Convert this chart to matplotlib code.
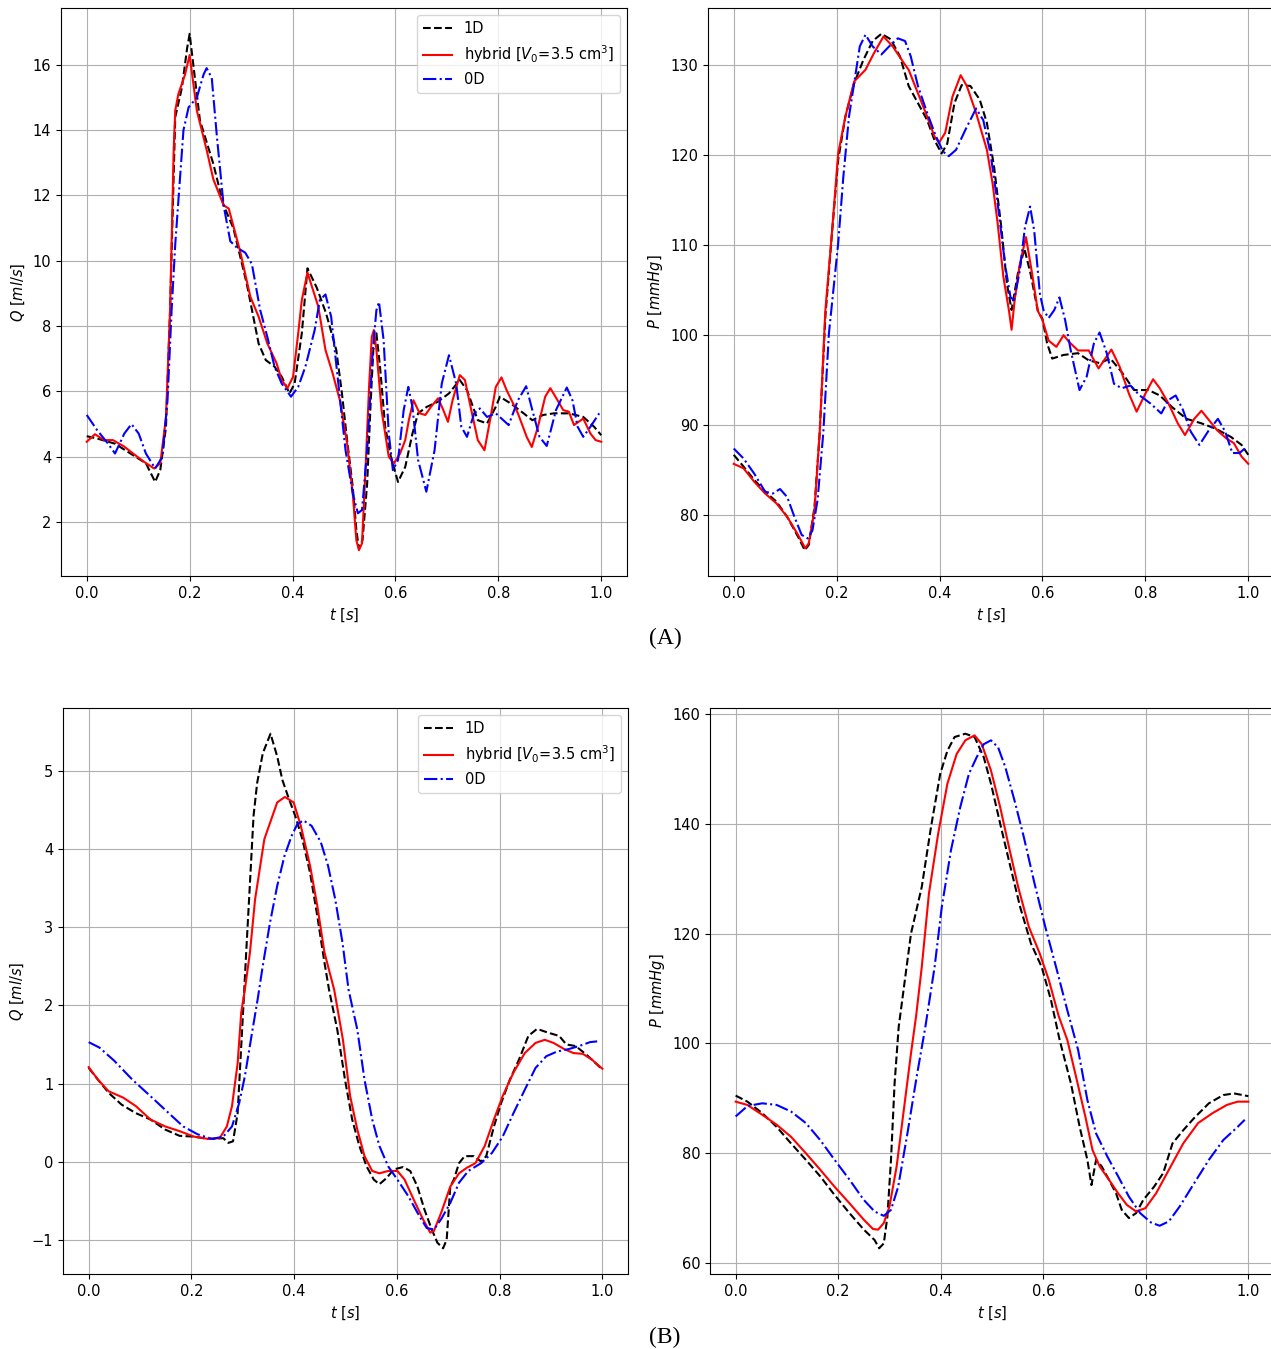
import matplotlib
matplotlib.use("Agg")
import matplotlib.pyplot as plt

# ---- case (A): flow rate Q [ml/s] ----
qa_t_1d = [0, 0.02, 0.055, 0.09, 0.115, 0.133, 0.143, 0.154, 0.162, 0.172, 0.185, 0.195, 0.2,
           0.22, 0.246, 0.266, 0.285, 0.311, 0.334, 0.348, 0.365, 0.379, 0.394, 0.404, 0.418, 0.429,
           0.447, 0.465, 0.485, 0.496, 0.506, 0.517, 0.524, 0.529, 0.536, 0.545, 0.552, 0.557, 0.563,
           0.57, 0.58, 0.591, 0.605, 0.619, 0.633, 0.644, 0.661, 0.682, 0.704, 0.725, 0.739, 0.76,
           0.778, 0.795, 0.803, 0.824, 0.845, 0.866, 0.887, 0.908, 0.937, 0.965, 0.986, 1.0]
qa_1d = [4.63, 4.56, 4.4, 4.05, 3.8, 3.23, 3.6, 4.9, 8.5, 14.4, 15.3, 16.5, 16.95,
         14.3, 12.97, 11.7, 11.0, 9.3, 7.47, 6.96, 6.76, 6.45, 5.94, 6.24, 7.78, 9.77,
         9.18, 8.4, 7.27, 5.94, 4.51, 3.08, 1.76, 1.19, 1.45, 3.18, 5.73, 7.27, 7.78,
         6.76, 4.92, 4.0, 3.23, 3.69, 4.71, 5.33, 5.53, 5.68, 5.94, 6.35, 6.04, 5.12,
         5.02, 5.53, 5.84, 5.63, 5.38, 5.12, 5.28, 5.33, 5.33, 5.22, 4.92, 4.66]

qa_t_hy = [0, 0.016, 0.034, 0.051, 0.073, 0.09, 0.111, 0.131, 0.143, 0.154, 0.162, 0.169, 0.172,
           0.178, 0.191, 0.2, 0.214, 0.233, 0.246, 0.266, 0.276, 0.298, 0.318, 0.334, 0.351, 0.369,
           0.379, 0.39, 0.401, 0.411, 0.418, 0.429, 0.45, 0.464, 0.478, 0.492, 0.506, 0.517, 0.524,
           0.529, 0.535, 0.542, 0.549, 0.554, 0.558, 0.563, 0.573, 0.587, 0.597, 0.609, 0.619, 0.626,
           0.635, 0.647, 0.658, 0.669, 0.683, 0.693, 0.702, 0.711, 0.725, 0.735, 0.746, 0.76, 0.773,
           0.785, 0.795, 0.806, 0.816, 0.838, 0.855, 0.865, 0.877, 0.891, 0.901, 0.915, 0.926, 0.937,
           0.947, 0.965, 0.979, 0.989, 1.0]
qa_hy = [4.46, 4.69, 4.51, 4.51, 4.31, 4.1, 3.85, 3.64, 3.8, 5.2, 8.5, 13.4, 14.6,
         15.1, 15.7, 16.3, 14.6, 13.4, 12.5, 11.7, 11.6, 10.3, 8.9, 8.29, 7.47, 6.86,
         6.35, 6.1, 6.45, 7.78, 8.8, 9.64, 8.6, 7.27, 6.55, 5.73, 4.41, 2.88, 1.45,
         1.14, 1.35, 3.69, 6.24, 7.67, 7.88, 7.27, 5.43, 4.0, 3.8, 4.1, 4.51, 5.12,
         5.73, 5.33, 5.28, 5.53, 5.79, 5.43, 5.07, 5.73, 6.5, 6.35, 5.53, 4.51, 4.2,
         5.22, 6.14, 6.43, 6.04, 5.33, 4.61, 4.3, 4.92, 5.84, 6.1, 5.73, 5.43, 5.38,
         4.97, 5.17, 4.71, 4.51, 4.46]

qa_t_0d = [0, 0.02, 0.041, 0.055, 0.073, 0.087, 0.101, 0.115, 0.133, 0.147, 0.157, 0.165, 0.172,
           0.188, 0.198, 0.214, 0.227, 0.233, 0.243, 0.253, 0.266, 0.279, 0.292, 0.308, 0.321, 0.337,
           0.351, 0.365, 0.379, 0.397, 0.411, 0.425, 0.443, 0.453, 0.464, 0.475, 0.489, 0.503, 0.517,
           0.527, 0.535, 0.545, 0.556, 0.563, 0.568, 0.577, 0.587, 0.595, 0.605, 0.616, 0.625, 0.633,
           0.644, 0.66, 0.676, 0.69, 0.704, 0.718, 0.728, 0.739, 0.753, 0.764, 0.778, 0.795, 0.82,
           0.838, 0.854, 0.866, 0.88, 0.894, 0.912, 0.933, 0.944, 0.954, 0.965, 0.979, 0.996]
qa_0d = [5.28, 4.82, 4.41, 4.1, 4.71, 5.0, 4.71, 4.1, 3.64, 4.0, 5.73, 8.5, 10.5,
         14.0, 14.7, 15.0, 15.7, 15.9, 15.6, 13.8, 11.7, 10.6, 10.4, 10.25, 9.9, 8.5,
         7.67, 6.76, 6.24, 5.84, 6.14, 6.76, 7.88, 8.8, 8.97, 8.29, 6.24, 4.2, 2.88,
         2.27, 2.37, 4.2, 7.27, 8.49, 8.74, 7.57, 4.71, 3.59, 3.9, 5.43, 6.14, 5.53,
         3.9, 2.93, 4.2, 6.24, 7.11, 6.24, 4.92, 4.61, 5.33, 5.48, 5.22, 5.33, 4.97,
         5.73, 6.16, 5.43, 4.61, 4.33, 5.43, 6.12, 5.73, 4.92, 4.61, 4.92, 5.33]

# ---- case (A): pressure P [mmHg] ----
pa_t_1d = [0, 0.019, 0.04, 0.061, 0.083, 0.104, 0.125, 0.138, 0.146, 0.157, 0.167, 0.178, 0.189,
           0.203, 0.217, 0.234, 0.252, 0.27, 0.287, 0.305, 0.323, 0.34, 0.358, 0.376, 0.39, 0.404,
           0.415, 0.429, 0.443, 0.46, 0.478, 0.492, 0.506, 0.52, 0.531, 0.54, 0.552, 0.565, 0.577,
           0.591, 0.6, 0.609, 0.619, 0.641, 0.669, 0.69, 0.711, 0.732, 0.754, 0.778, 0.806, 0.828,
           0.852, 0.88, 0.909, 0.937, 0.966, 0.987, 1.0]
pa_1d = [86.7, 85.4, 83.9, 82.6, 81.5, 79.8, 77.6, 76.1, 76.7, 80.9, 89.1, 102.0, 110.0,
         119.5, 124.3, 128.0, 130.6, 132.7, 133.5, 132.9, 131.0, 127.7, 125.8, 123.9, 121.7, 120.2,
         121.3, 125.8, 127.8, 127.7, 126.2, 123.6, 118.7, 112.0, 105.7, 102.8, 106.8, 109.6, 106.8,
         102.7, 101.8, 99.1, 97.4, 97.8, 98.0, 97.2, 96.9, 97.4, 95.9, 93.9, 93.9, 93.3,
         92.0, 90.7, 90.2, 89.6, 88.7, 87.8, 86.7]

pa_t_hy = [0, 0.019, 0.04, 0.061, 0.083, 0.104, 0.125, 0.139, 0.146, 0.157, 0.167, 0.178, 0.189,
           0.203, 0.217, 0.234, 0.256, 0.273, 0.291, 0.309, 0.33, 0.34, 0.358, 0.376, 0.39, 0.399,
           0.411, 0.425, 0.441, 0.453, 0.471, 0.492, 0.503, 0.513, 0.524, 0.535, 0.54, 0.546, 0.556,
           0.568, 0.58, 0.591, 0.6, 0.612, 0.627, 0.641, 0.651, 0.669, 0.69, 0.709, 0.722, 0.734,
           0.75, 0.768, 0.783, 0.8, 0.815, 0.828, 0.845, 0.863, 0.877, 0.895, 0.909, 0.923, 0.94,
           0.958, 0.972, 0.987, 1.0]
pa_hy = [85.7, 85.2, 83.7, 82.4, 81.3, 79.8, 77.8, 76.3, 76.9, 80.6, 89.1, 102.7, 110.1,
         120.2, 124.3, 128.2, 129.5, 131.4, 133.2, 132.1, 130.3, 129.5, 126.9, 124.3, 122.1, 121.4,
         122.5, 126.5, 128.9, 127.7, 124.7, 120.6, 116.9, 112.4, 106.5, 102.7, 100.6, 103.9, 107.9,
         110.9, 106.8, 102.7, 101.7, 99.4, 98.7, 100.0, 99.3, 98.3, 98.3, 96.3, 97.4, 98.4,
         96.5, 93.5, 91.5, 93.5, 95.1, 94.1, 92.4, 90.2, 88.9, 90.7, 91.6, 90.6, 89.4,
         88.5, 88.0, 86.5, 85.7]

pa_t_0d = [0, 0.019, 0.04, 0.061, 0.076, 0.09, 0.104, 0.118, 0.132, 0.144, 0.153, 0.163, 0.174,
           0.185, 0.203, 0.213, 0.224, 0.234, 0.245, 0.256, 0.27, 0.287, 0.302, 0.319, 0.333, 0.344,
           0.358, 0.376, 0.393, 0.407, 0.418, 0.432, 0.45, 0.471, 0.485, 0.499, 0.513, 0.528, 0.538,
           0.545, 0.556, 0.566, 0.576, 0.584, 0.595, 0.602, 0.612, 0.623, 0.633, 0.644, 0.655, 0.672,
           0.686, 0.7, 0.711, 0.725, 0.739, 0.754, 0.771, 0.789, 0.81, 0.831, 0.845, 0.859, 0.873,
           0.888, 0.905, 0.923, 0.941, 0.955, 0.969, 0.983, 0.997]
pa_0d = [87.4, 86.3, 84.6, 82.6, 82.4, 82.9, 82.0, 79.8, 77.8, 77.4, 78.3, 81.7, 89.1,
         100.2, 110.2, 117.6, 124.3, 128.0, 132.1, 133.4, 132.1, 131.2, 132.1, 133.0, 132.7, 131.0,
         127.7, 124.7, 122.1, 120.4, 119.9, 120.6, 122.8, 125.2, 123.9, 120.2, 114.6, 107.6, 104.2,
         103.9, 107.2, 112.0, 114.3, 111.6, 104.6, 102.8, 101.9, 102.8, 104.2, 101.7, 98.3, 93.9,
         95.4, 99.1, 100.3, 98.0, 94.6, 94.1, 94.4, 93.3, 92.4, 91.3, 92.8, 93.3, 91.7,
         89.3, 87.8, 89.4, 90.7, 89.3, 86.9, 86.9, 87.6]

# ---- case (B): flow rate Q [ml/s] ----
qb_t_1d = [0, 0.018, 0.039, 0.064, 0.092, 0.12, 0.149, 0.177, 0.205, 0.233, 0.262, 0.272, 0.281,
           0.29, 0.297, 0.302, 0.307, 0.314, 0.321, 0.328, 0.339, 0.354, 0.367, 0.377, 0.388, 0.402,
           0.416, 0.431, 0.445, 0.459, 0.468, 0.484, 0.499, 0.513, 0.527, 0.541, 0.555, 0.566, 0.58,
           0.594, 0.612, 0.626, 0.64, 0.654, 0.668, 0.679, 0.69, 0.697, 0.704, 0.711, 0.721, 0.732,
           0.75, 0.764, 0.774, 0.789, 0.803, 0.82, 0.838, 0.856, 0.873, 0.895, 0.916, 0.93, 0.948,
           0.969, 0.987, 1.0]
qb_1d = [1.2, 1.05, 0.88, 0.73, 0.62, 0.54, 0.41, 0.33, 0.32, 0.29, 0.3, 0.24, 0.26,
         0.62, 1.48, 2.09, 2.72, 3.57, 4.43, 4.85, 5.23, 5.48, 5.19, 4.89, 4.68, 4.43,
         4.13, 3.7, 3.15, 2.55, 2.2, 1.69, 1.05, 0.54, 0.2, -0.06, -0.23, -0.29, -0.21,
         -0.1, -0.07, -0.12, -0.32, -0.62, -0.87, -1.04, -1.11, -1.0, -0.32, -0.23, -0.02, 0.07,
         0.07, 0.0, 0.07, 0.45, 0.75, 1.05, 1.31, 1.61, 1.7, 1.65, 1.61, 1.5, 1.48,
         1.37, 1.26, 1.18]

qb_t_hy = [0, 0.018, 0.039, 0.067, 0.092, 0.12, 0.149, 0.177, 0.205, 0.233, 0.255, 0.269, 0.279,
           0.29, 0.297, 0.304, 0.314, 0.324, 0.342, 0.367, 0.382, 0.399, 0.413, 0.431, 0.445, 0.459,
           0.478, 0.495, 0.509, 0.523, 0.537, 0.552, 0.566, 0.583, 0.601, 0.615, 0.633, 0.651, 0.665,
           0.672, 0.686, 0.704, 0.721, 0.736, 0.753, 0.771, 0.789, 0.806, 0.827, 0.849, 0.87, 0.888,
           0.905, 0.926, 0.944, 0.962, 0.979, 1.0]
qb_hy = [1.21, 1.05, 0.9, 0.82, 0.71, 0.54, 0.45, 0.39, 0.32, 0.29, 0.3, 0.45, 0.71,
         1.26, 1.91, 2.2, 2.68, 3.36, 4.13, 4.6, 4.67, 4.6, 4.3, 3.79, 3.28, 2.68,
         2.2, 1.56, 0.84, 0.41, 0.07, -0.12, -0.15, -0.12, -0.12, -0.23, -0.49, -0.74, -0.91,
         -0.89, -0.66, -0.32, -0.15, -0.08, -0.02, 0.2, 0.54, 0.84, 1.14, 1.39, 1.52, 1.56,
         1.52, 1.44, 1.39, 1.38, 1.31, 1.19]

qb_t_0d = [0, 0.021, 0.05, 0.085, 0.12, 0.156, 0.184, 0.212, 0.24, 0.262, 0.279, 0.293, 0.304,
           0.318, 0.329, 0.339, 0.353, 0.367, 0.381, 0.395, 0.406, 0.418, 0.434, 0.452, 0.466, 0.48,
           0.494, 0.506, 0.523, 0.537, 0.552, 0.566, 0.583, 0.601, 0.622, 0.644, 0.658, 0.672, 0.686,
           0.704, 0.721, 0.739, 0.764, 0.785, 0.806, 0.827, 0.849, 0.87, 0.891, 0.912, 0.934, 0.955,
           0.976, 0.99]
qb_0d = [1.53, 1.46, 1.29, 1.05, 0.84, 0.62, 0.45, 0.35, 0.29, 0.32, 0.45, 0.75, 1.09,
         1.65, 2.08, 2.51, 3.06, 3.53, 3.91, 4.17, 4.32, 4.37, 4.3, 4.09, 3.79, 3.36,
         2.81, 2.2, 1.69, 1.05, 0.54, 0.2, -0.06, -0.23, -0.44, -0.7, -0.85, -0.87, -0.74,
         -0.53, -0.27, -0.12, -0.02, 0.11, 0.32, 0.62, 0.92, 1.2, 1.35, 1.41, 1.44, 1.48,
         1.53, 1.54]

# ---- case (B): pressure P [mmHg] ----
pb_t_1d = [0, 0.023, 0.052, 0.08, 0.108, 0.137, 0.165, 0.193, 0.222, 0.25, 0.271, 0.28, 0.289,
           0.296, 0.303, 0.31, 0.318, 0.342, 0.363, 0.381, 0.399, 0.413, 0.427, 0.448, 0.466, 0.484,
           0.498, 0.516, 0.533, 0.555, 0.576, 0.597, 0.615, 0.632, 0.654, 0.671, 0.686, 0.694, 0.703,
           0.714, 0.728, 0.742, 0.753, 0.767, 0.781, 0.795, 0.816, 0.834, 0.852, 0.873, 0.894, 0.923,
           0.951, 0.972, 1.0]
pb_1d = [90.5, 89.4, 87.3, 84.8, 81.8, 78.8, 75.8, 72.4, 69.1, 66.1, 64.2, 62.7, 63.6,
         68.5, 78.8, 92.7, 103.0, 120.0, 128.5, 139.4, 149.1, 153.3, 155.8, 156.4, 155.8, 152.1,
         147.3, 140.0, 133.3, 124.8, 118.2, 113.9, 107.9, 100.6, 92.7, 84.8, 78.8, 74.2, 78.8,
         77.6, 75.2, 72.7, 69.7, 68.2, 69.1, 71.5, 73.9, 76.4, 81.8, 84.2, 86.4, 89.1,
         90.6, 90.9, 90.4]

pb_t_hy = [0, 0.023, 0.052, 0.08, 0.108, 0.137, 0.165, 0.193, 0.222, 0.25, 0.268, 0.278, 0.289,
           0.3, 0.314, 0.328, 0.342, 0.352, 0.363, 0.377, 0.395, 0.413, 0.431, 0.448, 0.466, 0.48,
           0.498, 0.516, 0.533, 0.551, 0.572, 0.593, 0.611, 0.63, 0.647, 0.664, 0.682, 0.696, 0.71,
           0.728, 0.746, 0.763, 0.781, 0.799, 0.82, 0.845, 0.873, 0.902, 0.93, 0.958, 0.979, 1.0]
pb_hy = [89.4, 88.8, 87.0, 85.2, 83.0, 80.0, 77.0, 73.9, 70.9, 67.9, 66.2, 66.1, 67.3,
         70.3, 77.6, 87.9, 98.2, 105.0, 113.9, 127.3, 138.2, 147.3, 152.7, 155.2, 156.1, 154.5,
         149.7, 143.0, 135.8, 128.5, 121.2, 116.4, 111.5, 105.0, 100.6, 93.9, 86.7, 80.6, 77.6,
         75.2, 72.7, 70.6, 69.4, 70.0, 72.7, 77.0, 81.8, 85.5, 87.3, 88.8, 89.4, 89.4]

pb_t_0d = [0, 0.023, 0.052, 0.08, 0.108, 0.137, 0.165, 0.193, 0.222, 0.25, 0.271, 0.289, 0.303,
           0.317, 0.335, 0.353, 0.37, 0.388, 0.402, 0.42, 0.438, 0.455, 0.47, 0.484, 0.498, 0.512,
           0.526, 0.544, 0.562, 0.583, 0.604, 0.625, 0.647, 0.668, 0.686, 0.703, 0.725, 0.746, 0.767,
           0.789, 0.81, 0.827, 0.845, 0.866, 0.894, 0.923, 0.951, 0.979, 0.993]
pb_0d = [86.7, 88.6, 89.1, 88.8, 87.6, 85.5, 82.4, 78.8, 75.2, 71.5, 69.4, 68.6, 69.7,
         73.9, 83.6, 93.9, 103.0, 113.9, 124.8, 135.2, 143.0, 149.1, 152.1, 154.5, 155.2, 153.9,
         150.3, 144.2, 137.6, 129.1, 121.2, 113.9, 106.0, 98.8, 89.7, 83.6, 79.4, 75.8, 72.1,
         69.1, 67.4, 66.8, 67.6, 70.3, 74.5, 78.8, 82.4, 84.8, 86.1]

hybrid_label = r'hybrid [$V_0$=3.5 cm$^3$]'

plt.rcParams['font.size'] = 10.5

fig = plt.figure(figsize=(12.71, 13.49), dpi=100)
W, H = 1271.0, 1349.0


def box(x0, y0, x1, y1):
    return [x0 / W, 1 - y1 / H, (x1 - x0) / W, (y1 - y0) / H]


# right-hand panels run slightly past the page edge
panels = [
    (box(61, 8, 627, 576), (qa_t_1d, qa_1d), (qa_t_hy, qa_hy), (qa_t_0d, qa_0d), r'$Q\ [ml/s]$', True),
    (box(708, 8, 1274, 576), (pa_t_1d, pa_1d), (pa_t_hy, pa_hy), (pa_t_0d, pa_0d), r'$P\ [mmHg]$', False),
    (box(63, 708, 628, 1274), (qb_t_1d, qb_1d), (qb_t_hy, qb_hy), (qb_t_0d, qb_0d), r'$Q\ [ml/s]$', True),
    (box(710, 708, 1274, 1274), (pb_t_1d, pb_1d), (pb_t_hy, pb_hy), (pb_t_0d, pb_0d), r'$P\ [mmHg]$', False),
]

for rect, d1, dh, d0, ylab, show_leg in panels:
    ax = fig.add_axes(rect)
    ax.plot(d1[0], d1[1], 'k--', lw=1.5, label='1D')
    ax.plot(dh[0], dh[1], 'r-', lw=1.5, label=hybrid_label)
    ax.plot(d0[0], d0[1], 'b-.', lw=1.5, label='0D')
    ax.set_xticks([0.0, 0.2, 0.4, 0.6, 0.8, 1.0])
    ax.grid(True)
    ax.set_xlabel(r'$t\ [s]$')
    ax.set_ylabel(ylab)
    if show_leg:
        ax.legend(loc='upper right')

fig.text(665 / W, 1 - 638 / H, '(A)', ha='center', va='center',
         family='Liberation Serif', fontsize=17)
fig.text(665 / W, 1 - 1337 / H, '(B)', ha='center', va='center',
         family='Liberation Serif', fontsize=17)

fig.savefig('out.png', dpi=100)
